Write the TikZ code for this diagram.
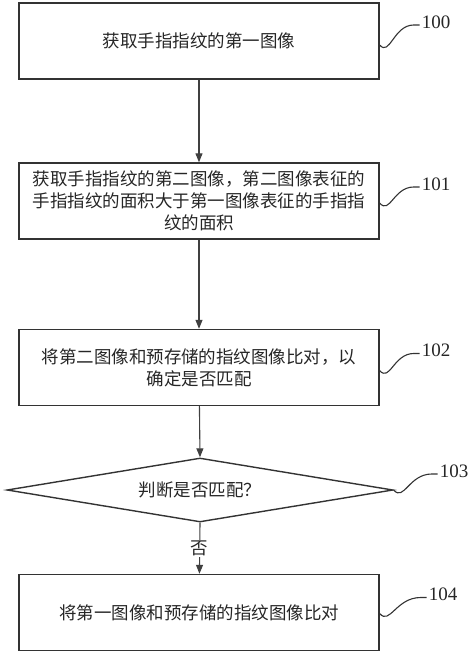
\documentclass[tikz,border=0pt]{standalone}
\usepackage{fontspec}
\setmainfont{Liberation Serif}
\newfontfamily\cjk{Noto Sans CJK SC}
\usetikzlibrary{shapes.geometric,arrows.meta,calc}
\begin{document}
\begin{tikzpicture}[x=1pt,y=-1pt,
  line/.style={draw=black!80, line width=1.4pt},
  stepbox/.style={line, minimum width=360pt, minimum height=76pt, inner sep=0pt, align=center,
    font=\cjk\fontsize{17.5}{22}\selectfont, text=black!85},
  decide/.style={line, shape=diamond, aspect=6, minimum width=386pt, minimum height=64pt, inner sep=0pt,
    font=\cjk\fontsize{17.5}{22}\selectfont, text=black!85},
  arrow/.style={draw=black!75, line width=1.1pt, -{Triangle[length=9pt,width=7pt]}},
  tag/.style={draw=black!80, line width=1.1pt},
  tagtext/.style={anchor=west, inner sep=2pt, font=\fontsize{19}{20}\selectfont, text=black!85}
]
\useasboundingbox (0,0) rectangle (474,653);

\node[stepbox] (b100) at (199,41) {获取手指指纹的第一图像};
\node[stepbox] (b101) at (199,201) {获取手指指纹的第二图像，第二图像表征的\\手指指纹的面积大于第一图像表征的手指指\\纹的面积};
\node[stepbox] (b102) at (199,367.5) {将第二图像和预存储的指纹图像比对，以\\确定是否匹配};
\node[decide] (d103) at (200,490) {判断是否匹配？};
\node[stepbox] (b104) at (199,612.5) {将第一图像和预存储的指纹图像比对};

\draw[arrow] (b100) -- (b101);
\draw[arrow] (b101) -- (b102);
\draw[arrow] (b102) -- (d103.north);
\draw[arrow] (d103.south) -- node[fill=white, inner sep=1pt, font=\cjk\fontsize{17.5}{20}\selectfont, text=black!85] {否} (b104);

% squiggle leaders
\coordinate (s100) at ([yshift=-4pt]b100.east);
\coordinate (s101) at ([yshift=-2pt]b101.east);
\coordinate (s102) at ([yshift=-3pt]b102.east);
\coordinate (s103) at (d103.east);
\coordinate (s104) at ([yshift=-1pt]b104.east);

\foreach \n/\dx/\dy in {100/40/-20, 101/40/-16, 102/40/-17, 103/44/-16, 104/47/-16} {
  \draw[tag] (s\n) .. controls ($(s\n)+(10,12)$) and ($(s\n)+(\dx*0.35,\dy)$) .. ($(s\n)+(\dx-6,\dy)$) -- ($(s\n)+(\dx,\dy)$) coordinate (e\n);
  \node[tagtext] (t\n) at ([yshift=3pt]e\n) {\n};
}
\end{tikzpicture}
\end{document}
